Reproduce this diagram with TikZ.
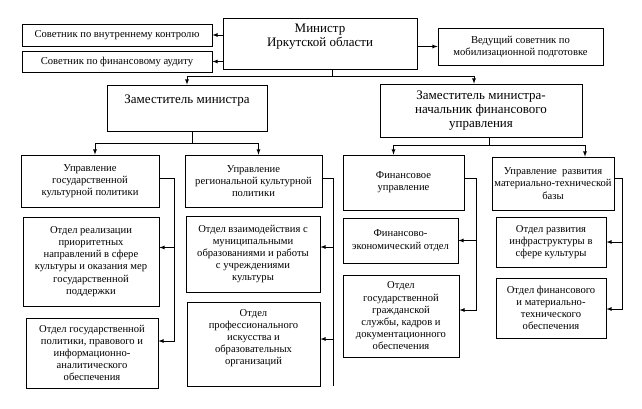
\documentclass[tikz,border=0pt]{standalone}
\usepackage{fontspec}
\setmainfont{Liberation Serif}
\usepackage{tikz}
\usetikzlibrary{arrows}
\tikzset{
  orgbox/.style={draw, line width=0.8pt, align=center, inner sep=1pt,
    font=\fontsize{10.6}{12.2}\selectfont},
  bigbox/.style={orgbox, font=\fontsize{13}{14}\selectfont},
  link/.style={line width=0.8pt},
  linkarrow/.style={link, -latex},
}

\begin{document}
\begin{tikzpicture}[x=1pt, y=-1pt]
    \useasboundingbox (0,0) rectangle (642,408);

    \node [orgbox, minimum width=190pt, minimum height=22pt] (advctrl) at (117,35)
      {Советник по внутреннему контролю};
    \node [orgbox, minimum width=190pt, minimum height=21pt] (advaudit) at (117,61.5)
      {Советник по финансовому аудиту};
    \node [bigbox, minimum width=194pt, minimum height=51pt, text depth=17pt] (minister) at (320,43.5)
      {Министр\\Иркутской области};
    \node [orgbox, minimum width=165pt, minimum height=37pt] (advmob) at (520.5,46.5)
      {Ведущий советник по\\мобилизационной подготовке};

    \node [bigbox, minimum width=160pt, minimum height=46pt, text depth=18pt] (deputy) at (187,108)
      {Заместитель министра};
    \node [bigbox, minimum width=202pt, minimum height=53pt] (deputyfin) at (481,110.5)
      {Заместитель министра-\\начальник финансового\\управления};

    \node [orgbox, minimum width=138pt, minimum height=52pt] (mgmtcult) at (90,181)
      {Управление\\государственной\\культурной политики};
    \node [orgbox, minimum width=137pt, minimum height=52pt] (mgmtreg) at (253.5,181)
      {Управление\\региональной культурной\\политики};
    \node [orgbox, minimum width=121pt, minimum height=55pt] (mgmtfin) at (403.5,182.5)
      {Финансовое\\управление};
    \node [orgbox, minimum width=122pt, minimum height=53pt] (mgmtbase) at (553,183.5)
      {Управление~ развития\\материально-технической\\базы};

    \node [orgbox, minimum width=136pt, minimum height=89pt] (deptprio) at (91,261.5)
      {Отдел реализации\\приоритетных\\направлений в сфере\\культуры и оказания мер\\государственной\\поддержки};
    \node [orgbox, minimum width=132pt, minimum height=70pt] (deptpol) at (92,353)
      {Отдел государственной\\политики, правового и\\информационно-\\аналитического\\обеспечения};
    \node [orgbox, minimum width=134pt, minimum height=76pt] (deptmun) at (253,254)
      {Отдел взаимодействия с\\муниципальными\\образованиями и работы\\с учреждениями\\культуры};
    \node [orgbox, minimum width=133pt, minimum height=84pt, text depth=14pt] (deptart) at (253.5,344)
      {Отдел\\профессионального\\искусства и\\образовательных\\организаций};
    \node [orgbox, minimum width=115pt, minimum height=45pt] (deptecon) at (400.5,240.5)
      {Финансово-\\экономический отдел};
    \node [orgbox, minimum width=116pt, minimum height=82pt] (deptstaff) at (401,316)
      {Отдел\\государственной\\гражданской\\службы, кадров и\\документационного\\обеспечения};
    \node [orgbox, minimum width=110pt, minimum height=50pt] (deptinfra) at (551,242)
      {Отдел развития\\инфраструктуры в\\сфере культуры};
    \node [orgbox, minimum width=110pt, minimum height=60pt] (deptsupply) at (551,308)
      {Отдел финансового\\и материально-\\технического\\обеспечения};

    \draw [linkarrow] (advctrl.east -| minister.west) -- (advctrl.east);
    \draw [linkarrow] (advaudit.east -| minister.west) -- (advaudit.east);
    \draw [linkarrow] (advmob.west -| minister.east) -- (advmob.west);

    \coordinate (minbus) at (332,76);
    \draw [link] (minbus |- minister.south) -- (minbus);
    \draw [linkarrow] (minbus) -| (deputy.north);
    \draw [linkarrow] (minbus) -| ([xshift=-7pt]deputyfin.north);

    \coordinate (depbus) at (192,143);
    \draw [link] (depbus |- deputy.south) -- (depbus);
    \draw [linkarrow] (depbus) -| ([xshift=5pt]mgmtcult.north);
    \draw [linkarrow] (depbus) -| ([xshift=5pt]mgmtreg.north);

    \coordinate (finbus) at (489,145);
    \draw [link] (finbus |- deputyfin.south) -- (finbus);
    \draw [linkarrow] (finbus) -| ([xshift=-10pt]mgmtfin.north);
    \draw [linkarrow] (finbus) -| ([xshift=32pt]mgmtbase.north);

    \coordinate (cultbus) at (174,178);
    \draw [link] (cultbus -| mgmtcult.east) -- (cultbus);
    \draw [linkarrow] (cultbus) |- ([yshift=14pt]deptprio.east);
    \draw [linkarrow] (cultbus) |- ([yshift=12pt]deptpol.east);

    \coordinate (regbus) at (333,178);
    \draw [link] (regbus -| mgmtreg.east) -- (regbus) -- (regbus |- deptart.south);
    \draw [linkarrow] (regbus) |- ([yshift=7pt]deptmun.east);
    \draw [linkarrow] (regbus) |- ([yshift=5pt]deptart.east);

    \coordinate (finsbus) at (476,178);
    \draw [link] (finsbus -| mgmtfin.east) -- (finsbus);
    \draw [linkarrow] (finsbus) |- (deptecon.east);
    \draw [linkarrow] (finsbus) |- ([yshift=6pt]deptstaff.east);

    \coordinate (basebus) at (622,178);
    \draw [link] (basebus -| mgmtbase.east) -- (basebus);
    \draw [linkarrow] (basebus) |- (deptinfra.east);
    \draw [linkarrow] (basebus) |- ([yshift=-1pt]deptsupply.east);
  \end{tikzpicture}
\end{document}
